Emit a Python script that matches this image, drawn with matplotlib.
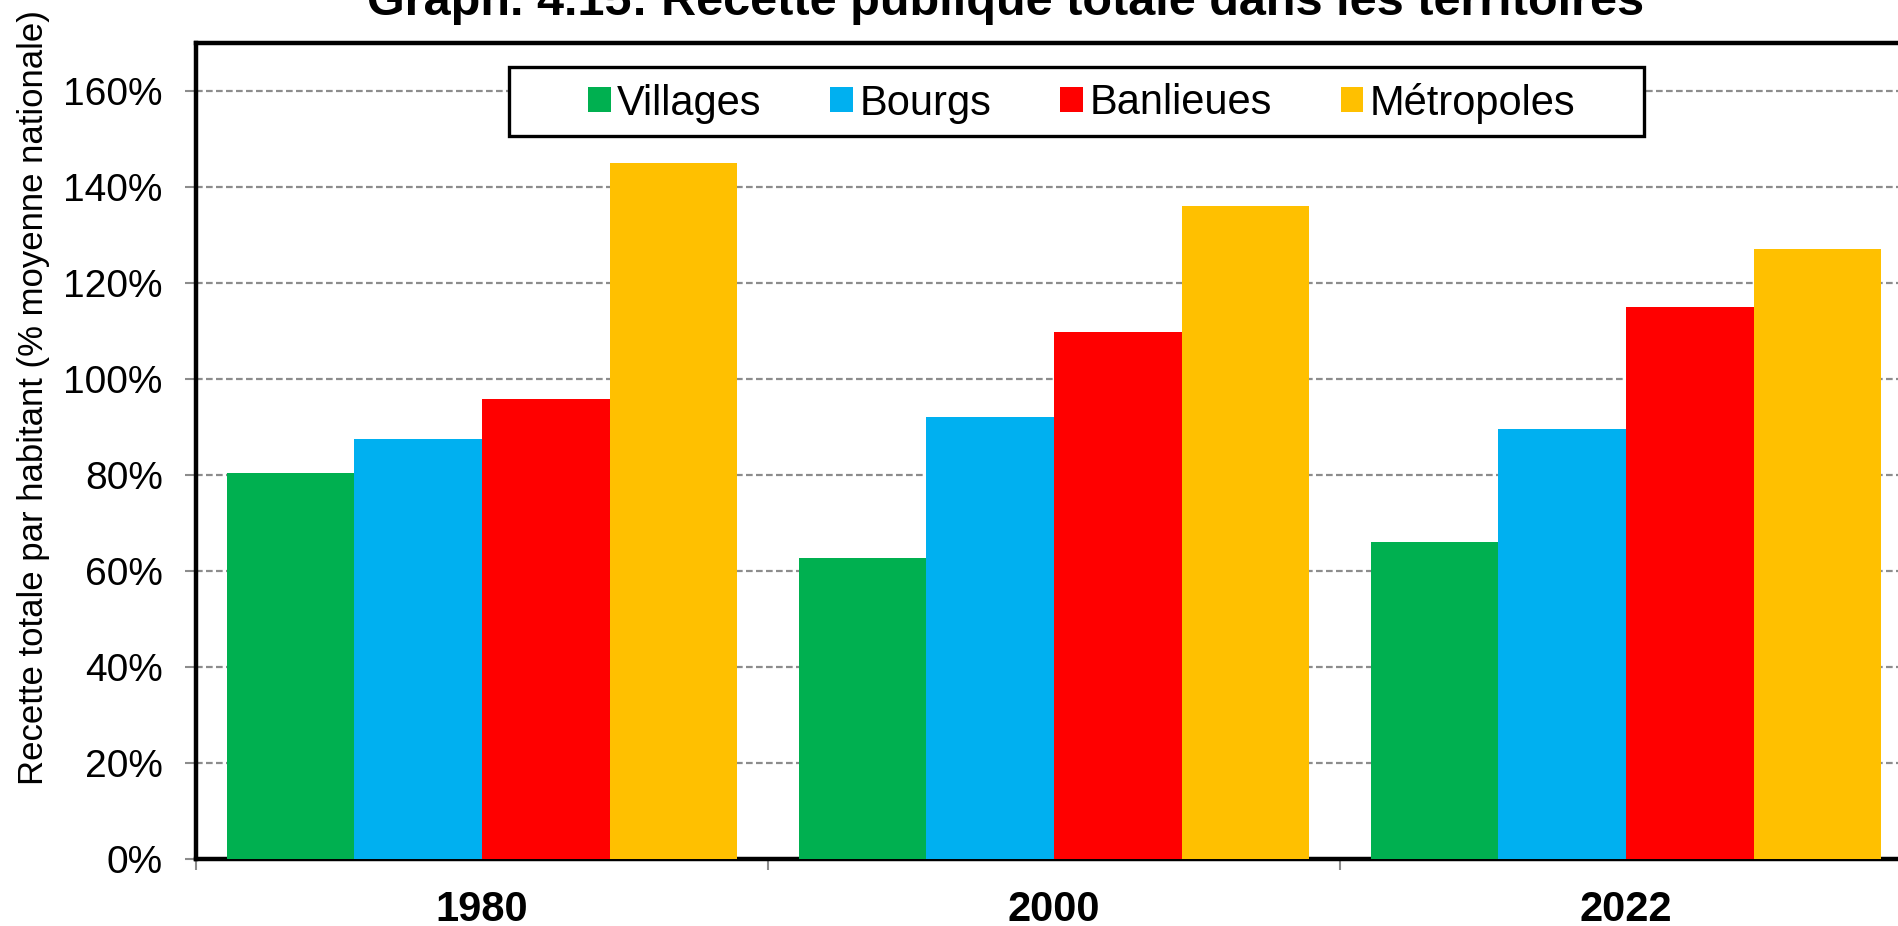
import matplotlib
matplotlib.use("Agg")
import matplotlib.pyplot as plt
from matplotlib.patches import Rectangle
from matplotlib.ticker import FixedLocator, PercentFormatter
import numpy as np

plt.rcParams["font.family"] = ["Liberation Sans", "DejaVu Sans"]

years = ["1980", "2000", "2022"]
series = ["Villages", "Bourgs", "Banlieues", "Métropoles"]
villages = [80.5, 62.7, 66.0]
bourgs = [87.6, 92.0, 89.6]
banlieues = [95.8, 109.7, 115.0]
metropoles = [145.1, 136.0, 127.1]
colors = ["#00B050", "#00B0F0", "#FF0000", "#FFC000"]

W, H = 1898, 926
fig = plt.figure(figsize=(W / 100, H / 100), dpi=100)
ax = fig.add_axes([196 / W, 1 - 859 / H, (1912 - 196) / W, (859 - 43) / H])

x = np.arange(len(years))
bw = 0.2233
values = [villages, bourgs, banlieues, metropoles]
for i, (name, vals, col) in enumerate(zip(series, values, colors)):
    ax.bar(x + (i - 1.5) * bw, vals, width=bw, color=col, label=name, zorder=3)

ax.set_xlim(-0.5, 2.5)
ax.set_ylim(0, 170)
ax.set_yticks(np.arange(0, 161, 20))
ax.yaxis.set_major_formatter(PercentFormatter(decimals=0))
ax.grid(axis="y", color="#8c8c8c", linestyle=(0, (3, 1.5)), linewidth=1.6, zorder=1)
ax.set_axisbelow(True)

# ticks between the groups, labels in the middle
ax.xaxis.set_major_locator(FixedLocator([-0.5, 0.5, 1.5, 2.5]))
ax.xaxis.set_minor_locator(FixedLocator(x))
ax.set_xticklabels([], minor=False)
ax.set_xticklabels(years, minor=True, fontsize=30, fontweight="bold")
ax.tick_params(axis="x", which="major", direction="out", length=8, width=1.5, color="#8c8c8c")
ax.tick_params(axis="x", which="minor", length=0, pad=22)
ax.tick_params(axis="y", direction="out", length=8, width=1.5, color="#8c8c8c",
               labelsize=28, pad=16)

for side in ["left", "bottom", "top", "right"]:
    ax.spines[side].set_color("black")
    ax.spines[side].set_linewidth(3.2)

fig.text(34 / W, 1 - 398 / H, "Recette totale par habitant (% moyenne nationale)",
         rotation=90, ha="center", va="center", fontsize=25)

fig.text(1006 / W, 1 - 15 / H, "Graph. 4.15: Recette publique totale dans les territoires",
         ha="center", va="baseline", fontsize=35, fontweight="bold")

# legend box drawn by hand so the entries keep their spacing
ax.add_patch(Rectangle((509 / W, 1 - 136 / H), (1644 - 509) / W, (136 - 67) / H,
                       transform=fig.transFigure, facecolor="white", edgecolor="black",
                       linewidth=2.4, zorder=4, clip_on=False))
leg = ax.legend(loc="center left", bbox_to_anchor=(588 / W, 1 - 103 / H),
                bbox_transform=fig.transFigure, ncol=4, frameon=False, fontsize=30,
                handlelength=0.55, handleheight=0.55, handletextpad=0.15,
                columnspacing=1.65, borderpad=0, borderaxespad=0)
leg.set_zorder(6)

fig.savefig("out.png", dpi=100)
